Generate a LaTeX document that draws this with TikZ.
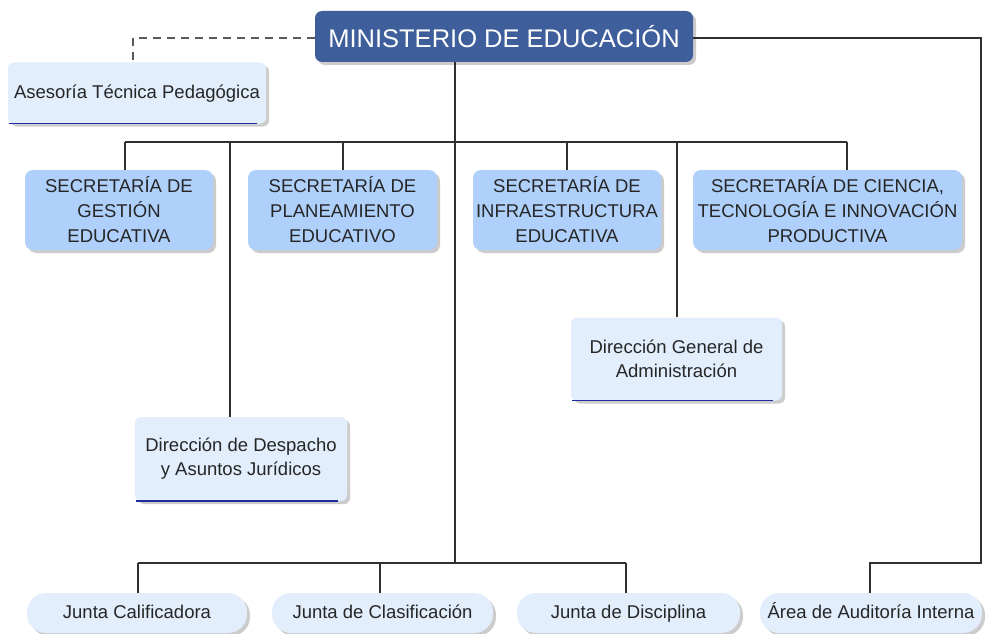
\documentclass[tikz,border=0pt]{standalone}
\usepackage{fontspec}
\setmainfont{Liberation Sans}
\usetikzlibrary{shadows,calc}
\definecolor{topblue}{HTML}{3F5F9C}
\definecolor{secblue}{HTML}{AFD0FA}
\definecolor{lightbox}{HTML}{E2EEFC}
\definecolor{txtc}{HTML}{262626}
\definecolor{ulinec}{HTML}{1F2D9E}
\definecolor{connc}{HTML}{303030}
\begin{document}
\begin{tikzpicture}[x=1pt,y=-1pt,
  base/.style={draw=none, align=center, text=txtc, inner sep=0pt,
    drop shadow={shadow xshift=3pt,shadow yshift=-3pt,fill=black!40}},
  topbox/.style={base, fill=topblue, text=white, rounded corners=7pt,
    minimum width=378pt, minimum height=51pt, font=\fontsize{25.5}{30}\selectfont},
  secbox/.style={base, fill=secblue, rounded corners=8pt, minimum height=80pt,
    font=\fontsize{18.5}{25}\selectfont},
  lbox/.style={base, fill=lightbox, rounded corners=6pt,
    font=\fontsize{18.5}{24}\selectfont},
  pill/.style={base, fill=lightbox, rounded corners=19pt, minimum height=40pt,
    text height=14pt, text depth=4pt, font=\fontsize{18.5}{24}\selectfont},
  connl/.style={draw=connc, line width=1.4pt},
  dashl/.style={draw=black!65, line width=1.4pt, dash pattern=on 8pt off 6pt},
  ulinel/.style={draw=ulinec, line width=1.5pt}
]
\useasboundingbox (0,0) rectangle (985,634);

% nodes
\node[topbox] (min) at (504,36.5) {MINISTERIO DE EDUCACIÓN};
\node[lbox, minimum width=258pt, minimum height=61pt, text height=15pt, text depth=3pt] (ase) at (137,93) {Asesoría Técnica Pedagógica};
\node[secbox, minimum width=188pt] (s1) at (119,210) {SECRETARÍA DE\\GESTIÓN\\EDUCATIVA};
\node[secbox, minimum width=189pt] (s2) at (342.5,210) {SECRETARÍA DE\\PLANEAMIENTO\\EDUCATIVO};
\node[secbox, minimum width=188pt] (s3) at (567,210) {SECRETARÍA DE\\INFRAESTRUCTURA\\EDUCATIVA};
\node[secbox, minimum width=269pt] (s4) at (827.5,210) {SECRETARÍA DE CIENCIA,\\TECNOLOGÍA E INNOVACIÓN\\PRODUCTIVA};
\node[lbox, minimum width=211pt, minimum height=83pt] (gen) at (676.5,359) {Dirección General de\\Administración};
\node[lbox, minimum width=212pt, minimum height=84pt] (desp) at (241,459) {Dirección de Despacho\\y Asuntos Jurídicos};
\node[pill, minimum width=220pt] (j1) at (137,613) {Junta Calificadora};
\node[pill, minimum width=221pt] (j2) at (382.5,613) {Junta de Clasificación};
\node[pill, minimum width=223pt] (j3) at (628.5,613) {Junta de Disciplina};
\node[pill, minimum width=222pt] (area) at (871,613) {Área de Auditoría Interna};

% underlines
\foreach \n in {ase,gen,desp}
  \draw[ulinel] ([xshift=1pt]\n.south west) -- ([xshift=-9pt]\n.south east);

% junction coordinates
\coordinate (t1) at (455,142);
\coordinate (t2) at (455,563);
\coordinate (d1) at (125,142);
\coordinate (d2) at (343,142);
\coordinate (d3) at (567,142);
\coordinate (d4) at (847,142);
\coordinate (d5) at (230,142);
\coordinate (d6) at (677,142);
\coordinate (e1) at (138,563);
\coordinate (e2) at (380,563);
\coordinate (e4) at (626,563);
\coordinate (r1) at (981,38);
\coordinate (r2) at (870,563);
\coordinate (a1) at (133,38);

% connectors
\draw[connl] (min.south -| t1) -- (t2);
\draw[connl] (d1) -- (d4);
\draw[connl] (d1) -- (d1 |- s1.north);
\draw[connl] (d2) -- (d2 |- s2.north);
\draw[connl] (d3) -- (d3 |- s3.north);
\draw[connl] (d4) -- (d4 |- s4.north);
\draw[connl] (d5) -- (d5 |- desp.north);
\draw[connl] (d6) -- (d6 |- gen.north);
\draw[connl] (e1) -- (e4);
\draw[connl] (e1) -- (e1 |- j1.north);
\draw[connl] (e2) -- (e2 |- j2.north);
\draw[connl] (e4) -- (e4 |- j3.north);
\draw[connl] (min.east |- r1) -- (r1) -- (r1 |- r2) -- (r2) -- (r2 |- area.north);
\draw[dashl] (min.west |- a1) -- (a1) -- (a1 |- ase.north);
\end{tikzpicture}
\end{document}
